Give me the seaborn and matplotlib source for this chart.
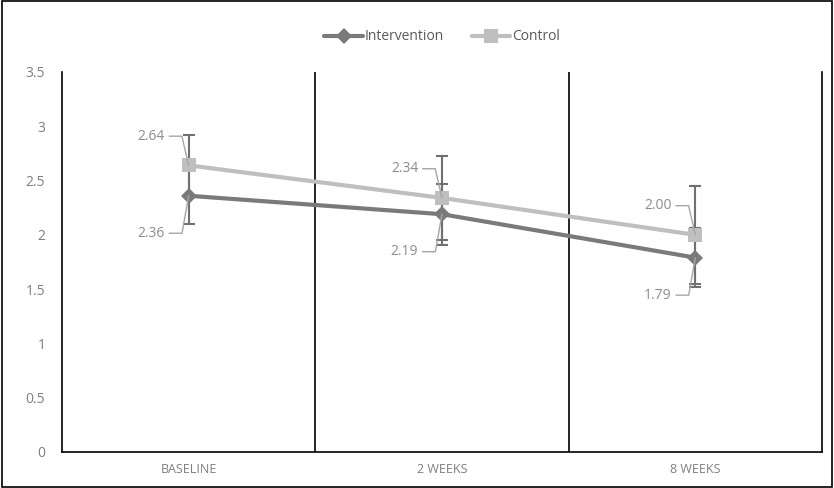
import numpy as np
import pandas as pd
import seaborn as sns
import matplotlib
matplotlib.use('Agg')
import matplotlib.pyplot as plt
from matplotlib.patches import Rectangle

# data
timepoints = ['BASELINE', '2 WEEKS', '8 WEEKS']
intervention = [2.36, 2.19, 1.79]
control = [2.64, 2.34, 2.00]
intervention_err = [0.26, 0.28, 0.27]
control_err = [0.28, 0.39, 0.45]

sns.set_theme(style='white')
plt.rcParams['font.family'] = ['Open Sans', 'DejaVu Sans']

df = pd.DataFrame({
    'pos': list(range(3)) * 2,
    'score': intervention + control,
    'group': ['Intervention'] * 3 + ['Control'] * 3,
})

c_int = '#7a7a7a'
c_ctl = '#bfbfbf'
c_err = '#707070'
c_lab = '#8c8c8c'

fig = plt.figure(figsize=(8.34, 4.88), dpi=100)
ax = fig.add_axes([0.0743, 0.0738, 0.9113, 0.7787])

x = np.arange(3)
ax.errorbar(x, control, yerr=control_err, fmt='none', ecolor=c_err,
            elinewidth=1.5, capsize=4, capthick=1.5, zorder=1)
ax.errorbar(x, intervention, yerr=intervention_err, fmt='none', ecolor=c_err,
            elinewidth=1.5, capsize=4, capthick=1.5, zorder=1)

sns.lineplot(data=df, x='pos', y='score', hue='group', style='group',
             palette={'Intervention': c_int, 'Control': c_ctl},
             markers={'Intervention': 'D', 'Control': 's'},
             dashes=False, linewidth=3, markersize=8, markeredgewidth=0,
             ax=ax, zorder=3)
for ln in ax.get_lines():
    if ln.get_marker() == 's':
        ln.set_markersize(10)

# data labels with leader lines (short horizontal tick, then down/up to the point)
for i in range(3):
    ax.annotate(f'{control[i]:.2f}', xy=(x[i], control[i]), xytext=(-17, 21),
                textcoords='offset points', ha='right', va='center',
                fontsize=10, color=c_lab,
                arrowprops=dict(arrowstyle='-', color='#a6a6a6', lw=1,
                                patchA=None, relpos=(1, 0.5), shrinkA=3, shrinkB=0,
                                connectionstyle='angle,angleA=0,angleB=103,rad=0'))
    ax.annotate(f'{intervention[i]:.2f}', xy=(x[i], intervention[i]), xytext=(-17, -27),
                textcoords='offset points', ha='right', va='center',
                fontsize=10, color=c_lab,
                arrowprops=dict(arrowstyle='-', color='#a6a6a6', lw=1,
                                patchA=None, relpos=(1, 0.5), shrinkA=3, shrinkB=0,
                                connectionstyle='angle,angleA=0,angleB=-100,rad=0'))

ax.set_xlim(-0.5, 2.5)
ax.set_ylim(0, 3.5)
ax.set_yticks(np.arange(0, 3.51, 0.5))
ax.set_yticklabels(['0', '0.5', '1', '1.5', '2', '2.5', '3', '3.5'])
ax.set_xticks(x)
ax.set_xticklabels(timepoints)
ax.tick_params(axis='y', labelsize=10, labelcolor='#7f7f7f', length=0, pad=12)
ax.tick_params(axis='x', labelsize=9, labelcolor='#7f7f7f', length=0, pad=8)
ax.set_xlabel('')
ax.set_ylabel('')

for xv in [0.5, 1.5]:
    ax.axvline(xv, color='black', lw=1.2, zorder=0)
for side in ['left', 'bottom', 'right']:
    ax.spines[side].set_color('black')
    ax.spines[side].set_linewidth(1.2)
ax.spines['top'].set_visible(False)

handles, labels = ax.get_legend_handles_labels()
ax.legend(handles, labels, loc='upper center', bbox_to_anchor=(0.5, 1.145),
          ncol=2, frameon=False, fontsize=10, labelcolor='#595959',
          handlelength=2.8, handletextpad=0.1, columnspacing=2)

fig.patches.append(Rectangle((0.002, 0.003), 0.996, 0.994, transform=fig.transFigure,
                             fill=False, edgecolor='black', lw=1.2))

fig.savefig('out.png', dpi=100)
